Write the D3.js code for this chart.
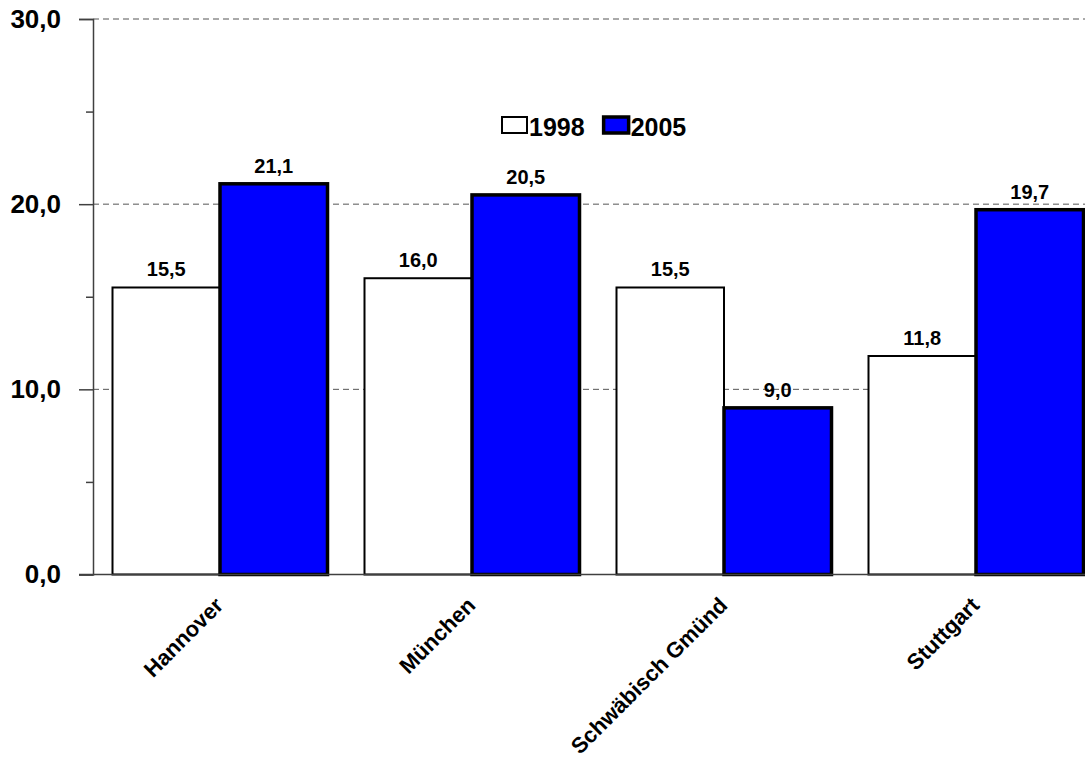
<!DOCTYPE html>
<html>
<head>
<meta charset="utf-8">
<script src="https://cdn.jsdelivr.net/npm/d3@7/dist/d3.min.js"></script>
<style>
  html, body { margin: 0; padding: 0; background: #fff; }
  svg { display: block; font-family: Arial, "Liberation Sans", sans-serif; }
</style>
</head>
<body>
<svg id="chart" width="1085" height="758"></svg>
<script>
// data
const cities = ['Hannover', 'München', 'Schwäbisch Gmünd', 'Stuttgart'];
const years = ['1998', '2005'];
const v1998 = [15.5, 16.0, 15.5, 11.8];
const v2005 = [21.1, 20.5, 9.0, 19.7];
const yTicks = [0, 10, 20, 30];
const yMinor = [5, 15, 25];

const fills = { '1998': '#ffffff', '2005': '#0000ff' };
const strokeW = { '1998': 2, '2005': 3.5 };

const svg = d3.select('#chart');
const fmt = v => d3.format('.1f')(v).replace('.', ',');

// plot area (right part runs past the picture edge, as in the original)
const plotL = 93, plotR = 1101, plotT = 19, plotB = 574.5;

const x0 = d3.scaleBand().domain(cities).range([plotL, plotR]);
const x1 = d3.scaleBand().domain(years).range([19.5, 234.5]);
const y = d3.scaleLinear().domain([0, 30]).range([plotB, plotT]);

const rows = cities.map((c, i) => ({ city: c, vals: [
    { year: '1998', v: v1998[i] },
    { year: '2005', v: v2005[i] }
]}));

// dashed grid
svg.append('g').selectAll('line').data(yTicks.filter(d => d > 0)).join('line')
    .attr('x1', plotL).attr('x2', 1085)
    .attr('y1', d => y(d)).attr('y2', d => y(d))
    .attr('stroke', '#555').attr('stroke-width', 1)
    .attr('stroke-dasharray', '6,4');

// bars
const groups = svg.append('g').selectAll('g').data(rows).join('g')
    .attr('transform', d => `translate(${x0(d.city)},0)`);

groups.selectAll('rect').data(d => d.vals).join('rect')
    .attr('x', d => x1(d.year))
    .attr('width', x1.bandwidth())
    .attr('y', d => y(d.v))
    .attr('height', d => y(0) - y(d.v))
    .attr('fill', d => fills[d.year])
    .attr('stroke', '#000')
    .attr('stroke-width', d => strokeW[d.year]);

groups.selectAll('text').data(d => d.vals).join('text')
    .attr('x', d => x1(d.year) + x1.bandwidth() / 2)
    .attr('y', d => y(d.v) - 11)
    .attr('text-anchor', 'middle')
    .attr('font-size', 20).attr('font-weight', 'bold')
    .text(d => fmt(d.v));

// y axis
const yAxis = svg.append('g').attr('transform', `translate(${plotL},0)`)
    .call(d3.axisLeft(y).tickValues(yTicks).tickSize(14).tickFormat(fmt));
yAxis.select('.domain').attr('stroke', '#404040').attr('stroke-width', 1.5);
yAxis.selectAll('.tick line').attr('stroke', '#404040').attr('stroke-width', 1.5);
yAxis.selectAll('.tick text')
    .attr('x', -32).attr('font-size', 26).attr('font-weight', 'bold')
    .attr('font-family', 'Arial, "Liberation Sans", sans-serif').attr('fill', '#000');

svg.append('g').attr('transform', `translate(${plotL},0)`)
    .call(d3.axisLeft(y).tickValues(yMinor).tickSize(7).tickFormat(''))
    .call(g => g.select('.domain').remove())
    .selectAll('.tick line').attr('stroke', '#404040').attr('stroke-width', 1.5);

// base line
svg.append('line')
    .attr('x1', plotL - 14).attr('x2', 1085)
    .attr('y1', y(0)).attr('y2', y(0))
    .attr('stroke', '#404040').attr('stroke-width', 1.5);

// category labels
svg.append('g').selectAll('text').data(cities).join('text')
    .attr('transform', d => `translate(${x0(d) + x0.bandwidth() / 2 - 6},595) rotate(-45)`)
    .attr('dy', '0.75em')
    .attr('text-anchor', 'end')
    .attr('font-size', 22).attr('font-weight', 'bold')
    .text(d => d);

// legend
const legend = svg.append('g').attr('transform', 'translate(502,136)');
let lx = 0;
years.forEach(yr => {
    const it = legend.append('g').attr('transform', `translate(${lx},0)`);
    it.append('rect')
        .attr('x', 0).attr('y', -19).attr('width', 25).attr('height', 16)
        .attr('fill', fills[yr]).attr('stroke', '#000').attr('stroke-width', strokeW[yr]);
    const t = it.append('text')
        .attr('x', 27).attr('y', 0)
        .attr('font-size', 25).attr('font-weight', 'bold')
        .text(yr);
    lx += 27 + t.node().getComputedTextLength() + 19;
});
</script>
</body>
</html>
